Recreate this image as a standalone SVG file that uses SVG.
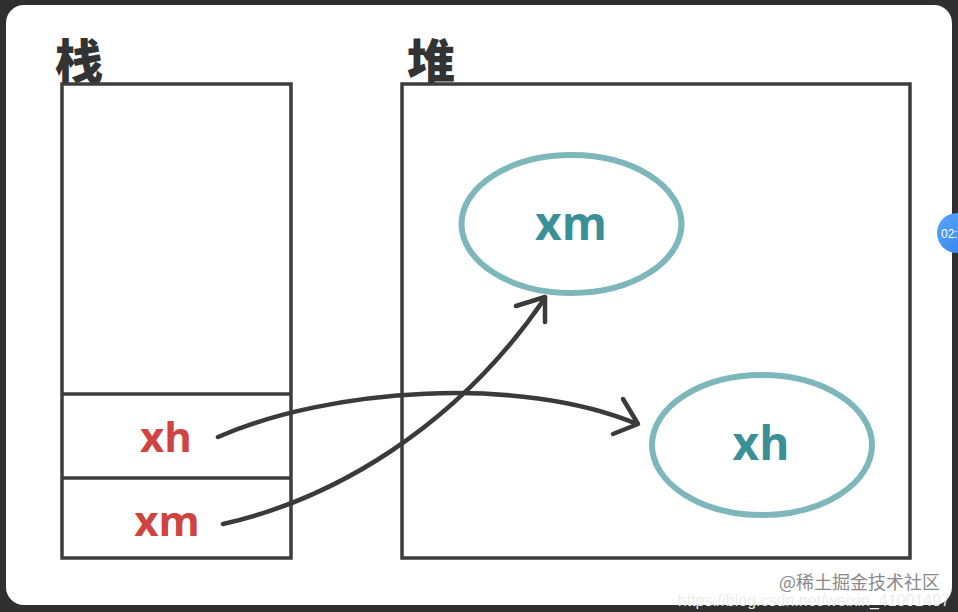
<svg xmlns="http://www.w3.org/2000/svg" width="958" height="612" viewBox="0 0 958 612">
<defs>
<style>
.box{fill:none;stroke:#3d3d3d;stroke-width:3.5}
.title{font-family:"Noto Sans CJK SC","Noto Sans",sans-serif;font-weight:900;font-size:48px;fill:#333}
.red{font-family:"Open Sans","Liberation Sans",sans-serif;font-weight:700;font-size:42px;fill:#cf4340;text-anchor:middle}
.teal{font-family:"Open Sans","Liberation Sans",sans-serif;font-weight:700;font-size:46px;fill:#3b9098;text-anchor:middle}
.ell{fill:none;stroke:#7db7bc;stroke-width:6}
.conn{fill:none;stroke:#3a3a3a;stroke-width:4.5;stroke-linecap:round;stroke-linejoin:round}
</style>
<linearGradient id="bg" x1="0" y1="0" x2="1" y2="1">
<stop offset="0" stop-color="#5aa7f5"/><stop offset="1" stop-color="#2f7ff0"/>
</linearGradient>
</defs>
<rect x="0" y="0" width="958" height="612" fill="#303030"/>
<rect x="6" y="5" width="946" height="600" rx="18" fill="#ffffff"/>

<g id="stack">
<text class="title" x="55" y="79">栈</text>
<rect class="box" x="62" y="84" width="229" height="474"/>
<line class="box" x1="62" y1="394" x2="291" y2="394"/>
<line class="box" x1="62" y1="478" x2="291" y2="478"/>
<text class="red" x="166" y="452">xh</text>
<text class="red" x="167" y="536">xm</text>
</g>

<g id="heap">
<text class="title" x="407" y="79">堆</text>
<rect class="box" x="402" y="84" width="508" height="474"/>
</g>

<g id="obj-xm">
<ellipse class="ell" cx="571.5" cy="224" rx="110" ry="69"/>
<text class="teal" x="571" y="240">xm</text>
</g>

<g id="obj-xh">
<ellipse class="ell" cx="762" cy="445" rx="110" ry="70"/>
<text class="teal" x="761" y="460">xh</text>
</g>

<g id="connectors">
<path class="conn" d="M218,437 C330,388 520,375 637,424"/>
<polyline class="conn" points="623,399 638,424 613,434"/>
<path class="conn" d="M223,524 C330,500 455,430 545,298"/>
<polyline class="conn" points="516,306 545,297 545,322"/>
</g>

<g id="overlay">
<circle cx="957" cy="233" r="20" fill="url(#bg)"/>
<text x="941" y="238" font-family="Liberation Sans,sans-serif" font-size="12" fill="#ffffff">02:</text>
<text x="950" y="606" text-anchor="end" font-family="Liberation Sans,sans-serif" font-size="16" fill="#ececec">https://blog.csdn.net/weixin_41001497</text>
<text x="940" y="589" text-anchor="end" font-family="Noto Sans CJK SC,sans-serif" font-size="18" fill="#8a8a8a">@稀土掘金技术社区</text>
</g>
</svg>
